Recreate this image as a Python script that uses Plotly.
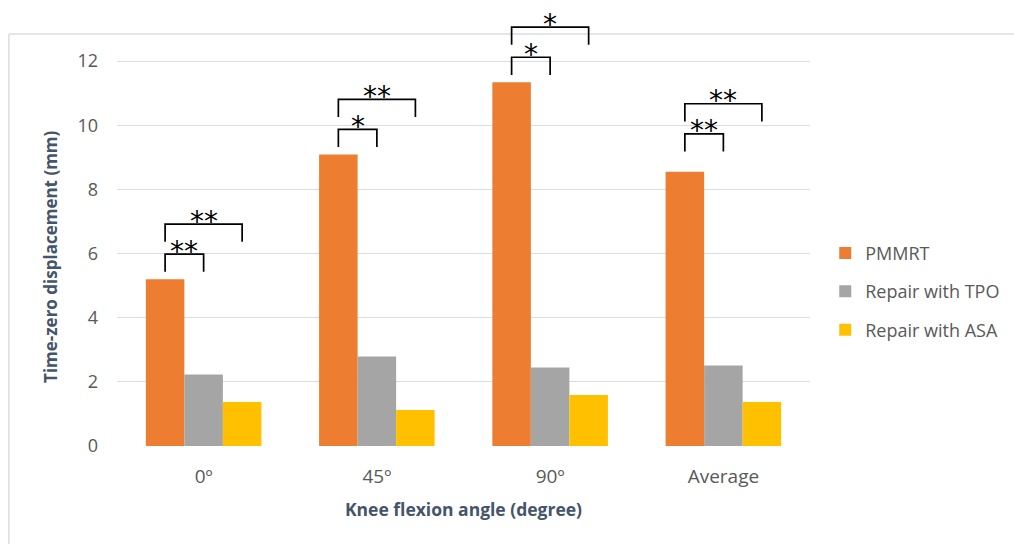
import plotly.graph_objects as go

# Knee flexion conditions and mean time-zero displacement (mm)
categories = ["0º", "45º", "90º", "Average"]
series_names = ["PMMRT", "Repair with TPO", "Repair with ASA"]
pmmrt = [5.2, 9.09, 11.34, 8.55]
repair_tpo = [2.23, 2.79, 2.45, 2.51]
repair_asa = [1.37, 1.12, 1.59, 1.37]
# significance vs PMMRT: (TPO, ASA)
sig_tpo = ["**", "*", "*", "**"]
sig_asa = ["**", "**", "*", "**"]
y_ticks = [0, 2, 4, 6, 8, 10, 12]

colors = ["#ED7D31", "#A5A5A5", "#FFC000"]
font_family = "'Open Sans', Lato, sans-serif"
tick_color = "#595959"
title_color = "#44546A"
grid_color = "#D9DDE3"

bargap = 0.333
x_pos = list(range(len(categories)))

fig = go.Figure()
for i, (name, vals) in enumerate(zip(series_names, [pmmrt, repair_tpo, repair_asa])):
    fig.add_trace(go.Bar(
        x=x_pos, y=vals, name=name,
        marker=dict(color=colors[i], line=dict(width=0)),
        legendgroup=name,
        hoverinfo="skip",
    ))

# significance brackets above each group
w = (1 - bargap) / 3          # width of one bar in category units
leg = 0.55                    # bracket leg length (mm)
lift = [0, 0, 0, 0.4]
bracket_lines = dict(color="black", width=1.7)
for i, xc in enumerate(x_pos):
    base = pmmrt[i] + lift[i]
    for (x_end, off, label) in [(xc, 0.78, sig_tpo[i]), (xc + w, 1.72, sig_asa[i])]:
        x0 = xc - w
        ytop = base + off
        fig.add_shape(type="path",
                      path=f"M {x0},{ytop - leg} L {x0},{ytop} L {x_end},{ytop} L {x_end},{ytop - leg}",
                      xref="x", yref="y", line=bracket_lines)
        fig.add_annotation(x=(x0 + x_end) / 2, y=ytop, xref="x", yref="y",
                           text=label, showarrow=False, yanchor="middle", yshift=3,
                           font=dict(family="DejaVu Sans", size=28, color="black"))

# chart frame (top and left edges)
fig.add_shape(type="line", xref="paper", yref="paper", x0=-0.156, x1=1.4, y0=0.9515, y1=0.9515,
              line=dict(color="#DADDE2", width=1.5), layer="below")
fig.add_shape(type="line", xref="paper", yref="paper", x0=-0.156, x1=-0.156, y0=-0.3, y1=0.9515,
              line=dict(color="#DADDE2", width=1.5), layer="below")

# y-axis title centred on the 0-12 scale
fig.add_annotation(x=-0.095, y=5.9, xref="paper", yref="y", text="<b>Time-zero displacement (mm)</b>",
                   textangle=-90, showarrow=False, xanchor="center", yanchor="middle",
                   font=dict(family=font_family, size=17, color=title_color))

fig.update_layout(
    width=1014, height=544,
    margin=dict(l=117, r=204, t=13, b=98, autoexpand=False),
    paper_bgcolor="white", plot_bgcolor="white",
    barmode="group", bargap=bargap, bargroupgap=0,
    font=dict(family=font_family, color=tick_color),
    showlegend=True,
    legend=dict(x=1.022, xanchor="left", y=0.488, yanchor="top",
                font=dict(family=font_family, size=18, color=tick_color),
                tracegroupgap=12, bgcolor="rgba(0,0,0,0)"),
    xaxis=dict(
        tickmode="array", tickvals=x_pos, ticktext=categories,
        range=[-0.5, len(categories) - 0.5],
        tickfont=dict(size=19, color=tick_color),
        showgrid=False, zeroline=False, showline=False, ticks="",
        ticklabelstandoff=17,
        title=dict(text="<b>Knee flexion angle (degree)</b>",
                   font=dict(family=font_family, size=17.5, color=title_color), standoff=15),
    ),
    yaxis=dict(
        range=[0, 13.5], tickmode="array", tickvals=y_ticks,
        tickfont=dict(size=18, color=tick_color),
        showgrid=True, gridcolor=grid_color, gridwidth=1.4,
        zeroline=False, showline=False, ticks="",
        ticklabelstandoff=18,
    ),
)

fig.write_html("out.html")
